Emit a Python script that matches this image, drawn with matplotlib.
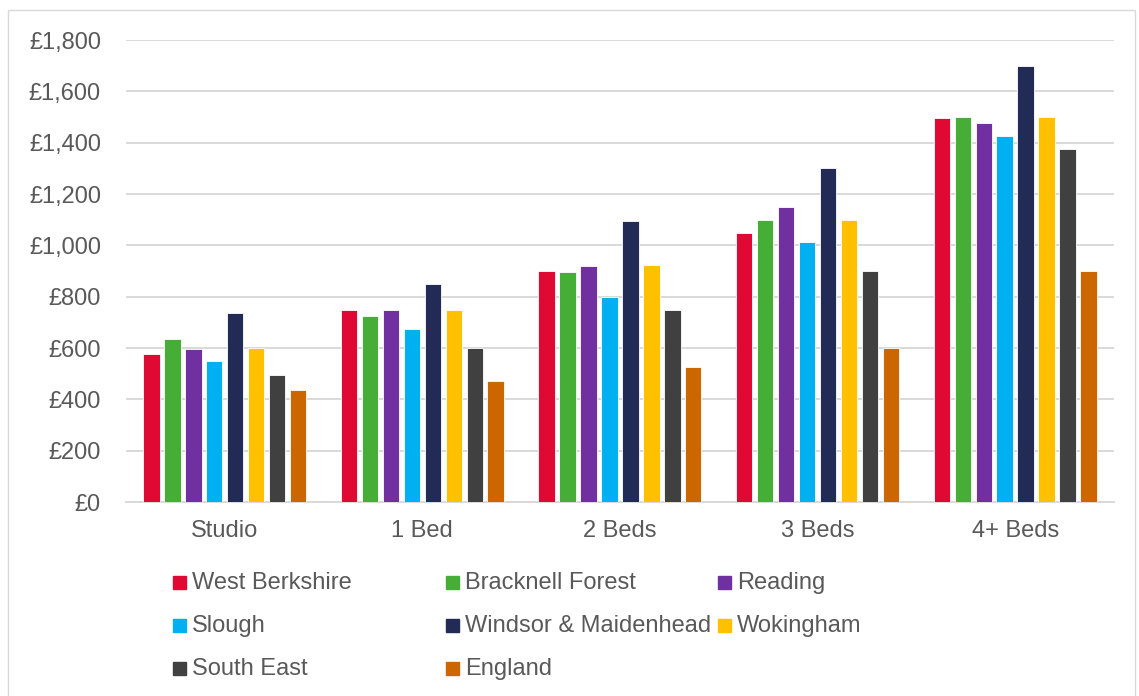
import matplotlib.pyplot as plt
from matplotlib.patches import Rectangle
import numpy as np

plt.rcParams['font.family'] = ['Liberation Sans', 'DejaVu Sans']

categorias = ["Studio", "1 Bed", "2 Beds", "3 Beds", "4+ Beds"]
areas = ["West Berkshire", "Bracknell Forest", "Reading", "Slough",
         "Windsor & Maidenhead", "Wokingham", "South East", "England"]
colores = ["#E00934", "#46AE36", "#7030A0", "#00B0F0",
           "#222B55", "#FFC000", "#404040", "#CC6600"]

west_berkshire = [575, 750, 900, 1050, 1495]
bracknell_forest = [635, 725, 895, 1100, 1500]
reading = [595, 750, 920, 1150, 1475]
slough = [550, 675, 800, 1015, 1425]
windsor = [735, 850, 1095, 1300, 1700]
wokingham = [600, 750, 925, 1100, 1500]
south_east = [495, 600, 750, 900, 1375]
england = [435, 470, 525, 600, 900]

series = [west_berkshire, bracknell_forest, reading, slough,
          windsor, wokingham, south_east, england]

gris_texto = "#595959"
gris_linea = "#D9D9D9"

fig = plt.figure(figsize=(11.39, 6.96), dpi=100)
ax = fig.add_axes([0.1106, 0.2787, 0.8674, 0.6638])

x = np.arange(len(categorias))
paso = 0.106
ancho = 0.083
for i, (valores, color) in enumerate(zip(series, colores)):
    ax.bar(x + (i - 3.5) * paso, valores, width=ancho, color=color,
           edgecolor="white", linewidth=0.6, zorder=3)

ax.set_xlim(-0.5, 4.5)
ax.set_ylim(0, 1800)
ax.set_yticks(range(0, 1801, 200))
ax.set_yticklabels(["£{:,}".format(v) for v in range(0, 1801, 200)])
ax.set_xticks(x)
ax.set_xticklabels(categorias)
ax.tick_params(length=0, labelsize=17, colors=gris_texto)
ax.tick_params(axis="x", pad=13)
ax.tick_params(axis="y", pad=18)
ax.grid(axis="y", color=gris_linea, linewidth=1.4, zorder=0)
for lado in ["top", "right", "left"]:
    ax.spines[lado].set_visible(False)
ax.spines["bottom"].set_color(gris_linea)
ax.spines["bottom"].set_linewidth(1.4)

# leyenda manual en 3 columnas (como Excel)
col_x = [173, 446, 718]
fila_y = [582, 625, 668]
W, H = 1139, 696
for i, (nombre, color) in enumerate(zip(areas, colores)):
    cx = col_x[i % 3]
    cy = fila_y[i // 3]
    fig.patches.append(Rectangle((cx / W, (H - cy - 6.5) / H), 13 / W, 13 / H,
                                 transform=fig.transFigure, color=color))
    fig.text((cx + 19) / W, (H - cy - 1) / H, nombre, fontsize=17,
             color=gris_texto, va="center", ha="left")

# borde del gráfico
fig.patches.append(Rectangle((8 / W, -0.01), (1135 - 8) / W, (H - 10) / H + 0.01,
                             transform=fig.transFigure, fill=False,
                             edgecolor=gris_linea, linewidth=1))

fig.savefig("out.png", dpi=100)
